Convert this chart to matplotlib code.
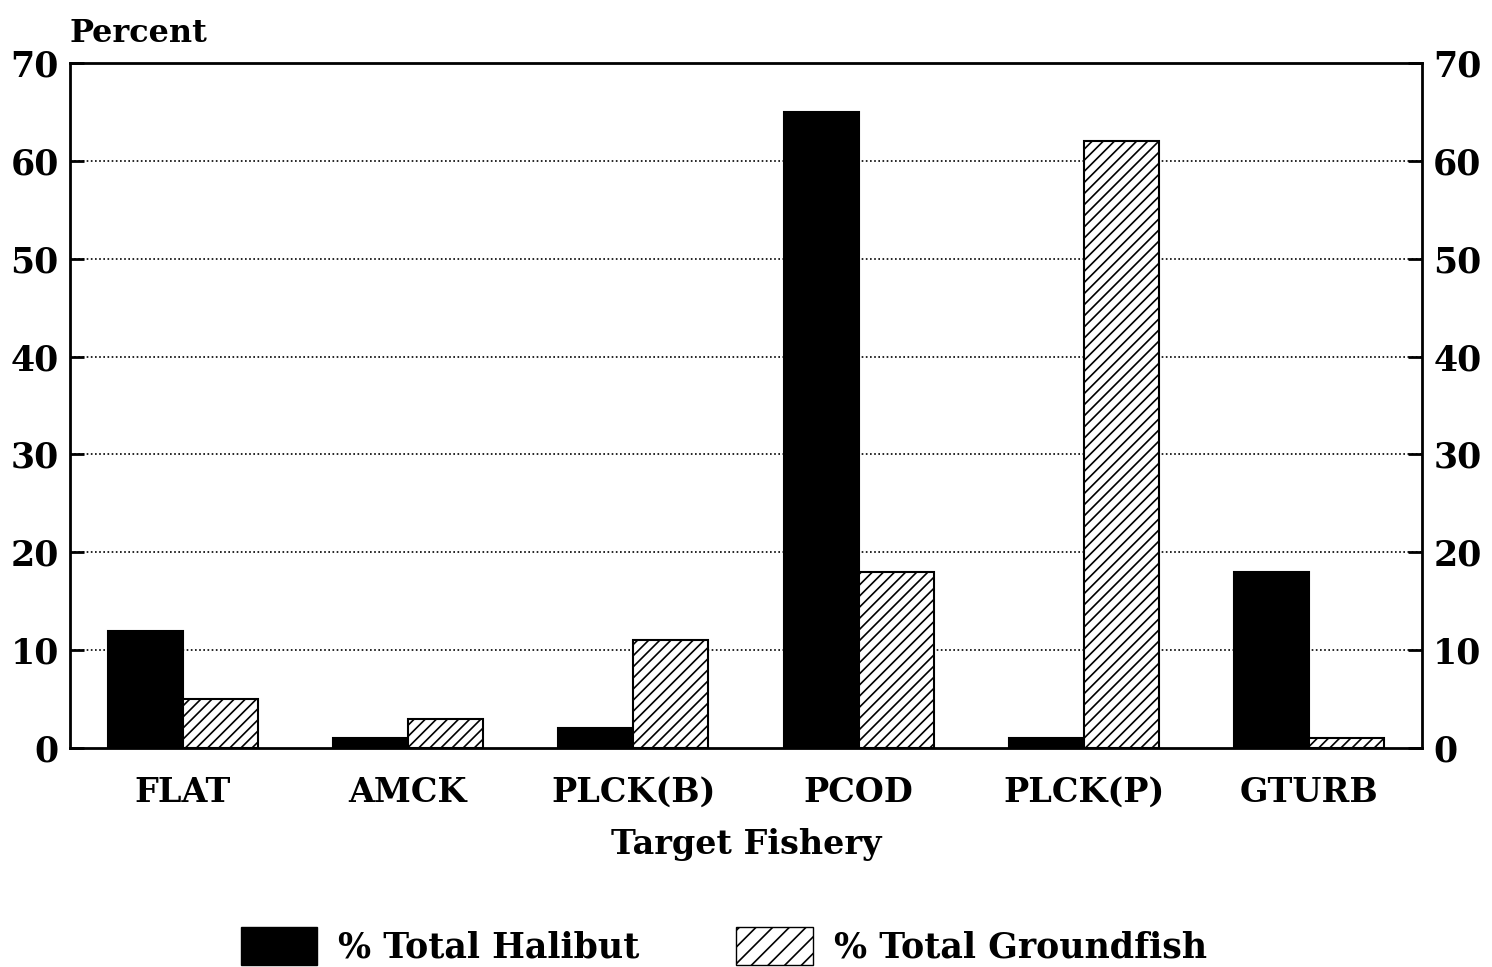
import matplotlib

matplotlib.use("Agg")
import matplotlib.pyplot as plt
import numpy as np
from matplotlib.patches import Patch

fisheries = ["FLAT", "AMCK", "PLCK(B)", "PCOD", "PLCK(P)", "GTURB"]
halibut_pct = [12, 1, 2, 65, 1, 18]
groundfish_pct = [5, 3, 11, 18, 62, 1]
y_ticks = [0, 10, 20, 30, 40, 50, 60, 70]

plt.rcParams["font.family"] = ["DejaVu Serif"]
plt.rcParams["font.weight"] = "bold"
plt.rcParams["hatch.linewidth"] = 1.2

fig = plt.figure(figsize=(14.92, 9.67), dpi=100)
ax = fig.add_axes([0.0469, 0.2265, 0.9062, 0.7084])

x = np.arange(len(fisheries))
w = 0.333
ax.bar(x - w / 2, halibut_pct, w, color="black", edgecolor="black", lw=1.5, zorder=3)
ax.bar(x + w / 2, groundfish_pct, w, color="white", edgecolor="black", hatch="///",
       lw=1.5, zorder=3)

ax.set_xlim(-0.5, len(fisheries) - 0.5)
ax.set_ylim(0, 70)
ax.set_yticks(y_ticks)
ax.set_xticks(x)
ax.set_xticklabels(fisheries, fontsize=24)
ax.tick_params(axis="x", length=0, pad=20)
ax.tick_params(axis="y", direction="in", length=10, width=2, labelsize=25,
               left=True, right=True, labelleft=True, labelright=True, pad=8)
for s in ax.spines.values():
    s.set_linewidth(2)
for v in y_ticks[1:-1]:
    ax.axhline(v, color="black", ls=(0, (1, 1.5)), lw=1.2, zorder=1)

ax.set_xlabel("Target Fishery", fontsize=24, fontweight="bold", labelpad=14)
ax.text(0.0, 1.02, "Percent", transform=ax.transAxes, fontsize=23, ha="left", va="bottom")

handles = [Patch(facecolor="black", edgecolor="black"),
           Patch(facecolor="white", edgecolor="black", hatch="//")]
fig.legend(handles, ["% Total Halibut", "% Total Groundfish"], loc="lower center",
           bbox_to_anchor=(0.485, -0.03), ncol=2, frameon=False, fontsize=25,
           handlelength=2.2, handleheight=1.3, columnspacing=2.8, handletextpad=0.6)

fig.savefig("out.png", dpi=100)
